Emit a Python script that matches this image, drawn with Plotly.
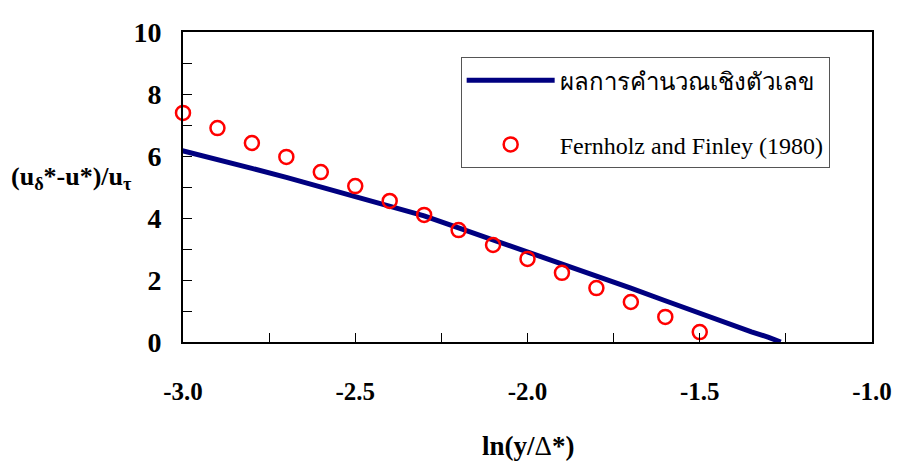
import plotly.graph_objects as go

# Numerical result (line)
line_x = [-3.02, -3.0, -2.9, -2.8, -2.7, -2.6, -2.5, -2.4, -2.3, -2.2, -2.1, -2.0,
          -1.9, -1.8, -1.7, -1.6, -1.5, -1.45, -1.4, -1.35, -1.3, -1.265]
line_y = [6.22, 6.16, 5.88, 5.60, 5.31, 5.01, 4.70, 4.40, 4.07, 3.68, 3.30, 2.91,
          2.53, 2.13, 1.74, 1.33, 0.92, 0.72, 0.52, 0.33, 0.15, 0.0]

# Fernholz and Finley (1980) data (circles)
exp_x = [-3.0, -2.9, -2.8, -2.7, -2.6, -2.5, -2.4, -2.3, -2.2, -2.1, -2.0,
         -1.9, -1.8, -1.7, -1.6, -1.5]
exp_y = [7.39, 6.90, 6.42, 5.97, 5.48, 5.03, 4.55, 4.10, 3.61, 3.13, 2.68,
         2.23, 1.74, 1.29, 0.81, 0.32]

x_ticks = [-3.0, -2.5, -2.0, -1.5, -1.0]
x_ticklabels = ["-3.0", "-2.5", "-2.0", "-1.5", "-1.0"]
y_ticks = [0, 2, 4, 6, 8, 10]
y_ticklabels = ["0", "2", "4", "6", "8", "10"]

name_line = "ผลการคำนวณเชิงตัวเลข"
name_exp = "Fernholz and Finley (1980)"

FONT = "Liberation Serif, Times New Roman, serif"

fig = go.Figure()
fig.add_trace(go.Scatter(
    x=line_x, y=line_y, mode="lines", name=name_line, legendgroup="a",
    line=dict(color="#000080", width=5), cliponaxis=False,
))
fig.add_trace(go.Scatter(
    x=exp_x, y=exp_y, mode="markers", name=name_exp, legendgroup="b",
    marker=dict(symbol="circle-open", size=14, color="#ff0000",
                line=dict(width=2.5, color="#ff0000")),
    cliponaxis=False,
))

fig.update_layout(
    width=904, height=461,
    margin=dict(l=183, r=27, t=32, b=119),
    paper_bgcolor="white", plot_bgcolor="white",
    font=dict(family=FONT, color="black"),
    showlegend=True,
    legend=dict(
        x=0.403, y=0.919, xanchor="left", yanchor="top",
        bordercolor="#555555", borderwidth=1, bgcolor="white",
        font=dict(family=FONT, size=24, color="black"),
        tracegroupgap=30, itemwidth=88,
    ),
    xaxis=dict(
        range=[-3.0, -1.0], tickvals=x_ticks, ticktext=x_ticklabels,
        ticks="inside", ticklen=9, tickwidth=1, tickcolor="black",
        minor=dict(dtick=0.25, ticks="inside", ticklen=9, tickcolor="black"),
        showgrid=False, zeroline=False,
        showline=True, linecolor="black", linewidth=2, mirror=True,
        tickfont=dict(family=FONT, size=25, weight="bold", color="black"),
        ticklabelstandoff=26,
    ),
    yaxis=dict(
        range=[0, 10], tickvals=y_ticks, ticktext=y_ticklabels,
        ticks="inside", ticklen=9, tickwidth=1, tickcolor="black",
        minor=dict(dtick=1, ticks="inside", ticklen=9, tickcolor="black"),
        showgrid=False, zeroline=False,
        showline=True, linecolor="black", linewidth=2, mirror=True,
        tickfont=dict(family=FONT, size=28, weight="bold", color="black"),
        ticklabelstandoff=14,
    ),
    annotations=[
        dict(text="<b>(u<sub>δ</sub>*-u*)/u<sub>τ</sub></b>",
             xref="paper", yref="paper", x=-0.252, y=0.53,
             xanchor="left", yanchor="middle", showarrow=False,
             font=dict(family=FONT, size=26, color="black")),
        dict(text="<b>ln(y/</b>Δ<b>*)</b>",
             xref="paper", yref="paper", x=0.5, y=-0.335,
             xanchor="center", yanchor="middle", showarrow=False,
             font=dict(family=FONT, size=27, color="black")),
    ],
)

fig.write_html("out.html")
